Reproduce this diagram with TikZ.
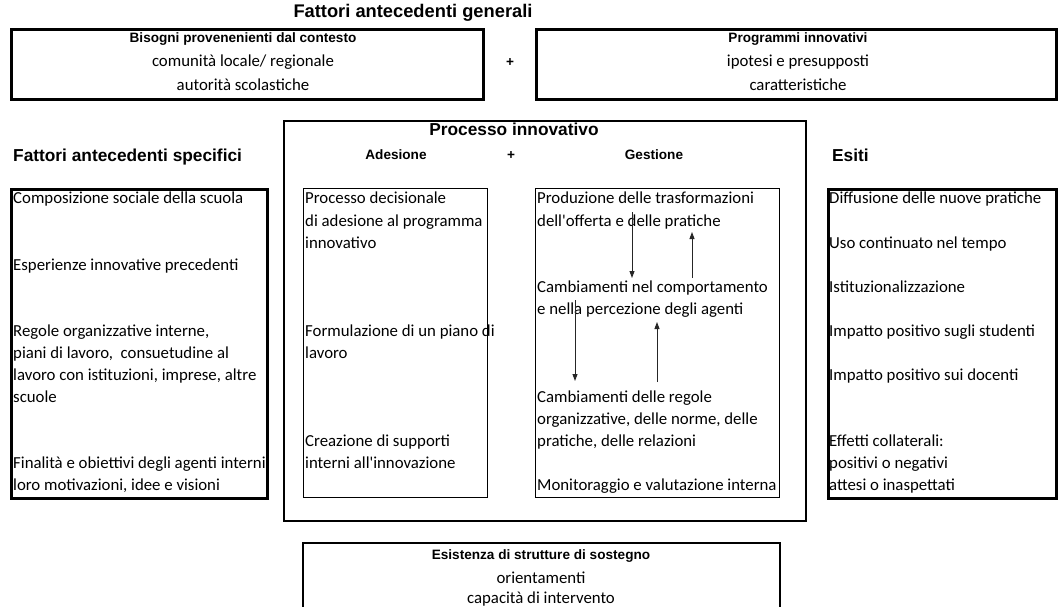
\documentclass[tikz,border=0pt]{standalone}
\usepackage{fontspec}
\setmainfont{Carlito}
\newfontfamily\hdfont{Liberation Sans}
\usetikzlibrary{arrows.meta}
\tikzset{
  body/.style={font=\fontsize{16.8}{20}\selectfont, anchor=base west, inner sep=0pt},
  ctext/.style={font=\fontsize{16.8}{20}\selectfont, anchor=base, inner sep=0pt},
  bighead/.style={font=\hdfont\bfseries\fontsize{17.3}{20}\selectfont, anchor=base, inner sep=0pt},
  subhead/.style={font=\hdfont\bfseries\fontsize{13.6}{16}\selectfont, anchor=base, inner sep=0pt},
  thickbox/.style={draw, line width=2.8pt, inner sep=0pt, anchor=north west},
  thinbox/.style={draw, line width=1.2pt, inner sep=0pt, anchor=north west},
  framebox/.style={draw, line width=1.8pt, inner sep=0pt, anchor=north west},
  flow/.style={-{Triangle[length=7pt,width=5pt]}, line width=0.9pt, draw=black!85},
}
\begin{document}
\begin{tikzpicture}[x=1pt,y=-1pt]
\useasboundingbox (0,0) rectangle (1058,607);
% boxes
\node[thickbox, minimum width=472pt, minimum height=70pt] (tl) at (10,28) {};
\node[thickbox, minimum width=520pt, minimum height=70pt] (tr) at (535,28) {};
\node[framebox, minimum width=522pt, minimum height=400pt] (fr) at (283,120) {};
\node[thickbox, minimum width=256pt, minimum height=309pt] (lb) at (10,188) {};
\node[thinbox, minimum width=184pt, minimum height=309pt] (ab) at (303,188) {};
\node[thinbox, minimum width=244pt, minimum height=309pt] (gb) at (535,188) {};
\node[thickbox, minimum width=228pt, minimum height=309pt] (eb) at (827,188) {};
\coordinate (bb1) at (303,607);
\coordinate (bb2) at (780,543);
\coordinate (bb3) at (780,607);
\draw[line width=2.8pt] (bb1) |- (bb2) -- (bb3);
% headings
\node[bighead, font=\hdfont\bfseries\fontsize{18.3}{20}\selectfont] (h1) at (413,18) {Fattori antecedenti generali};
\node[subhead] (p1) at (510,67) {+};
\node[subhead] (t1) at (243,43) {Bisogni provenenienti dal contesto};
\node[ctext] (t2) at (243,67) {comunità locale/ regionale};
\node[ctext] (t3) at (243,91) {autorità scolastiche};
\node[subhead] (t4) at (798,43) {Programmi innovativi};
\node[ctext] (t5) at (798,67) {ipotesi e presupposti};
\node[ctext] (t6) at (798,91) {caratteristiche};
\node[bighead, anchor=base west] (h2) at (13,161) {Fattori antecedenti specifici};
\node[bighead] (h3) at (514,136) {Processo innovativo};
\node[subhead] (h4) at (396,160) {Adesione};
\node[subhead] (p2) at (511,160) {+};
\node[subhead] (h5) at (654,160) {Gestione};
\node[bighead, anchor=base west] (h6) at (832,161) {Esiti};
% left box
\node[body] (l1) at (13,204) {Composizione sociale della scuola};
\node[body] (l2) at (13,270) {Esperienze innovative precedenti};
\node[body] (l3) at (13,336) {Regole organizzative interne,};
\node[body] (l4) at (13,358) {piani di lavoro,\ \ consuetudine al};
\node[body] (l5) at (13,380) {lavoro con istituzioni, imprese, altre};
\node[body] (l6) at (13,402) {scuole};
\node[body, fill=white] (l7) at (13,468) {Finalità e obiettivi degli agenti interni};
\node[body] (l8) at (13,490) {loro motivazioni, idee e visioni};
% adesione box
\node[body] (a1) at (305,204) {Processo decisionale};
\node[body] (a2) at (305,226) {di adesione al programma};
\node[body] (a3) at (305,248) {innovativo};
\node[body] (a4) at (305,336) {Formulazione di un piano di};
\node[body] (a5) at (305,358) {lavoro};
\node[body] (a6) at (305,446) {Creazione di supporti};
\node[body] (a7) at (305,468) {interni all\textquotesingle innovazione};
% gestione box
\node[body] (g1) at (537,204) {Produzione delle trasformazioni};
\node[body] (g2) at (537,226) {dell\textquotesingle offerta e delle pratiche};
\node[body] (g3) at (537,292) {Cambiamenti nel comportamento};
\node[body] (g4) at (537,314) {e nella percezione degli agenti};
\node[body] (g5) at (537,402) {Cambiamenti delle regole};
\node[body] (g6) at (537,424) {organizzative, delle norme, delle};
\node[body] (g7) at (537,446) {pratiche, delle relazioni};
\node[body] (g8) at (537,490) {Monitoraggio e valutazione interna};
% esiti box
\node[body] (e1) at (829,204) {Diffusione delle nuove pratiche};
\node[body] (e2) at (829,248) {Uso continuato nel tempo};
\node[body] (e3) at (829,292) {Istituzionalizzazione};
\node[body] (e4) at (829,336) {Impatto positivo sugli studenti};
\node[body] (e5) at (829,380) {Impatto positivo sui docenti};
\node[body] (e6) at (829,446) {Effetti collaterali:};
\node[body] (e7) at (829,468) {positivi o negativi};
\node[body] (e8) at (829,490) {attesi o inaspettati};
% bottom box
\node[subhead] (b1) at (541,559) {Esistenza di strutture di sostegno};
\node[ctext] (b2) at (541,583) {orientamenti};
\node[ctext] (b3) at (541,603) {capacità di intervento};
% arrows
\coordinate (r1s) at (632,212);
\coordinate (r1e) at (632,278);
\coordinate (r2s) at (692,278);
\coordinate (r2e) at (692,232);
\coordinate (r3s) at (575,300);
\coordinate (r3e) at (575,381);
\coordinate (r4s) at (657,382);
\coordinate (r4e) at (657,322);
\draw[flow] (r1s) -- (r1e);
\draw[flow] (r2s) -- (r2e);
\draw[flow] (r3s) -- (r3e);
\draw[flow] (r4s) -- (r4e);
\end{tikzpicture}
\end{document}
